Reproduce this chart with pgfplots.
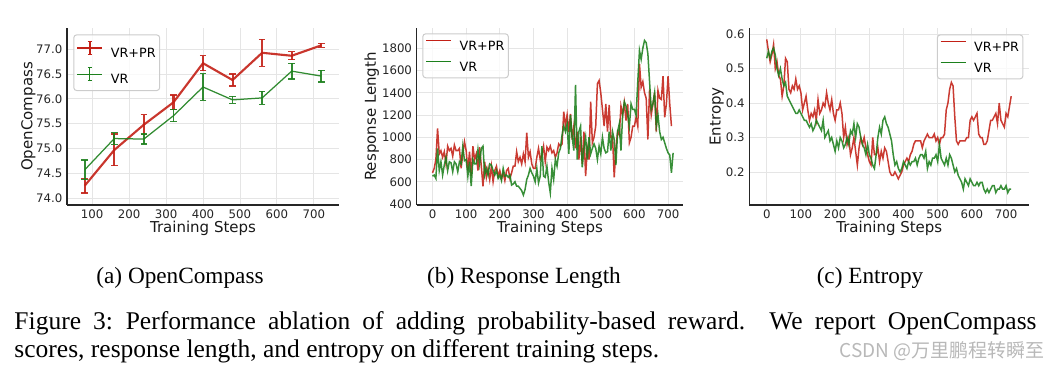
\documentclass[border=0pt]{standalone}
\usepackage{fontspec}
\setmainfont{Liberation Serif}
\newfontfamily\dejavu{DejaVu Sans}
\newfontfamily\cjk{Noto Sans CJK SC}
\usepackage{pgfplots}
\pgfplotsset{compat=1.18}
\usepackage{pgfplotstable}
\definecolor{cred}{RGB}{195,32,22}
\definecolor{cgreen}{RGB}{28,128,28}

% (b) Response length
\pgfplotstableread{
x y
0 680
5 720
10 800
15 1080
20 850
25 880
30 820
35 870
40 760
45 920
50 880
55 900
60 830
65 930
70 880
75 880
80 900
85 720
90 850
95 960
100 880
105 700
110 870
115 650
120 920
125 800
130 850
135 700
140 910
145 740
150 560
155 780
160 640
165 720
170 620
175 740
180 600
185 700
190 740
195 650
200 700
205 630
210 680
215 610
220 700
225 720
230 630
235 680
240 740
245 740
250 870
255 780
260 820
265 760
270 850
275 780
280 1040
285 820
290 870
295 760
300 720
305 720
310 820
315 900
320 800
325 840
330 920
335 780
340 910
345 880
350 920
355 860
360 880
365 820
370 860
375 940
380 920
385 940
390 1230
395 1100
400 1200
405 1050
410 1210
415 980
420 1100
425 900
430 1050
435 800
440 1000
445 760
450 1050
455 650
460 900
465 800
470 1320
475 950
480 1000
485 1100
490 1480
495 1510
500 1400
505 1250
510 1100
515 1300
520 1050
525 1290
530 1000
535 1000
540 640
545 900
550 1050
555 1020
560 1280
565 1200
570 1310
575 1150
580 1300
585 950
590 1000
595 1100
600 1100
605 1180
610 1100
615 1660
620 1450
625 1500
630 1400
635 1350
640 980
645 1430
650 1200
655 1300
660 1400
665 1050
670 1420
675 1350
680 1340
685 1550
690 1180
695 1300
700 1550
705 1300
710 1100
}\lenpr
\pgfplotstableread{
x y
0 650
5 660
10 630
15 900
20 700
25 780
30 660
35 750
40 820
45 700
50 780
55 770
60 690
65 780
70 760
75 690
80 780
85 760
90 920
95 790
100 800
105 650
110 780
115 560
120 800
125 760
130 760
135 890
140 760
145 900
150 920
155 660
160 720
165 660
170 760
175 750
180 700
185 660
190 700
195 630
200 660
205 610
210 720
215 650
220 660
225 640
230 660
235 570
240 580
245 600
250 560
255 560
260 540
265 520
270 480
275 530
280 620
285 660
290 720
295 680
300 650
305 600
310 720
315 590
320 650
325 920
330 650
335 640
340 740
345 600
350 500
355 720
360 620
365 800
370 740
375 860
380 900
385 1020
390 1100
395 1050
400 1120
405 850
410 1200
415 1000
420 880
425 1470
430 800
435 1050
440 1100
445 730
450 900
455 1000
460 800
465 1000
470 850
475 900
480 940
485 900
490 800
495 920
500 850
505 1000
510 900
515 860
520 870
525 1050
530 880
535 1050
540 980
545 750
550 1050
555 1120
560 880
565 1200
570 1320
575 1280
580 1200
585 1100
590 1300
595 1250
600 1250
605 1200
610 1500
615 1780
620 1700
625 1800
630 1870
635 1850
640 1750
645 1500
650 1250
655 1300
660 1400
665 1100
670 1200
675 1050
680 980
685 1000
690 950
695 900
700 860
705 840
710 680
715 860
}\lenvr

% (c) Entropy
\pgfplotstableread{
x y
0 0.585
5 0.55
10 0.52
15 0.54
20 0.57
25 0.50
30 0.52
35 0.48
40 0.47
45 0.42
50 0.45
55 0.53
60 0.52
65 0.44
70 0.43
75 0.45
80 0.44
85 0.47
90 0.44
95 0.45
100 0.43
105 0.38
110 0.40
115 0.42
120 0.38
125 0.35
130 0.37
135 0.36
140 0.38
145 0.35
150 0.41
155 0.37
160 0.38
165 0.40
170 0.39
175 0.43
180 0.40
185 0.38
190 0.41
195 0.37
200 0.35
205 0.38
210 0.38
215 0.40
220 0.37
225 0.30
230 0.33
235 0.28
240 0.30
245 0.25
250 0.27
255 0.30
260 0.26
265 0.22
270 0.27
275 0.30
280 0.28
285 0.30
290 0.27
295 0.25
300 0.23
305 0.22
310 0.30
315 0.25
320 0.25
325 0.27
330 0.23
335 0.26
340 0.24
345 0.27
350 0.26
355 0.23
360 0.20
365 0.19
370 0.19
375 0.20
380 0.19
385 0.18
390 0.19
395 0.20
400 0.22
405 0.23
410 0.24
415 0.23
420 0.25
425 0.26
430 0.28
435 0.29
440 0.29
445 0.29
450 0.29
455 0.27
460 0.29
465 0.30
470 0.31
475 0.30
480 0.30
485 0.30
490 0.31
495 0.29
500 0.30
505 0.28
510 0.30
515 0.30
520 0.31
525 0.38
530 0.40
535 0.44
540 0.46
545 0.45
550 0.36
555 0.29
560 0.28
565 0.29
570 0.29
575 0.29
580 0.29
585 0.30
590 0.30
595 0.35
600 0.36
605 0.35
610 0.36
615 0.37
620 0.31
625 0.30
630 0.30
635 0.28
640 0.28
645 0.29
650 0.32
655 0.35
660 0.35
665 0.36
670 0.37
675 0.34
680 0.40
685 0.35
690 0.34
695 0.33
700 0.37
705 0.36
710 0.39
715 0.42
}\entpr
\pgfplotstableread{
x y
0 0.53
5 0.55
10 0.53
15 0.55
20 0.56
25 0.54
30 0.50
35 0.48
40 0.50
45 0.47
50 0.45
55 0.46
60 0.42
65 0.41
70 0.40
75 0.39
80 0.38
85 0.37
90 0.37
95 0.38
100 0.37
105 0.36
110 0.35
115 0.35
120 0.34
125 0.33
130 0.34
135 0.32
140 0.33
145 0.35
150 0.34
155 0.33
160 0.32
165 0.35
170 0.30
175 0.31
180 0.32
185 0.29
190 0.30
195 0.28
200 0.26
205 0.29
210 0.27
215 0.30
220 0.29
225 0.27
230 0.28
235 0.30
240 0.28
245 0.32
250 0.31
255 0.34
260 0.30
265 0.34
270 0.33
275 0.30
280 0.28
285 0.27
290 0.25
295 0.28
300 0.25
305 0.24
310 0.22
315 0.21
320 0.25
325 0.30
330 0.33
335 0.31
340 0.35
345 0.36
350 0.34
355 0.33
360 0.31
365 0.29
370 0.25
375 0.22
380 0.23
385 0.21
390 0.20
395 0.21
400 0.23
405 0.22
410 0.21
415 0.23
420 0.22
425 0.23
430 0.23
435 0.24
440 0.22
445 0.24
450 0.25
455 0.25
460 0.24
465 0.26
470 0.21
475 0.23
480 0.22
485 0.24
490 0.24
495 0.25
500 0.23
505 0.28
510 0.24
515 0.23
520 0.22
525 0.24
530 0.22
535 0.25
540 0.24
545 0.22
550 0.20
555 0.21
560 0.19
565 0.18
570 0.17
575 0.15
580 0.18
585 0.17
590 0.16
595 0.18
600 0.17
605 0.16
610 0.16
615 0.17
620 0.16
625 0.17
630 0.17
635 0.15
640 0.14
645 0.15
650 0.14
655 0.15
660 0.16
665 0.16
670 0.14
675 0.15
680 0.15
685 0.16
690 0.15
695 0.15
700 0.16
705 0.14
710 0.15
715 0.15
}\entvr

\pgfplotsset{
  panel/.style={
    scale only axis,
    axis x line*=bottom, axis y line*=left,
    axis line style={-, line width=0.55pt, black!85},
    major tick length=0pt,
    grid=major,
    grid style={draw=black!10, line width=0.35pt},
    tick label style={font=\fontsize{4.7}{5.5}\dejavu, text=black!85},
    /pgf/number format/assume math mode=true,
    /pgf/number format/1000 sep={},
    xticklabel style={inner sep=0pt, anchor=north, yshift=-1.8pt},
    yticklabel style={inner sep=0pt, anchor=east, xshift=-1.7pt},
    label style={font=\fontsize{6}{7}\dejavu, text=black!90},
    xlabel={Training Steps},
    xlabel style={at={(axis description cs:0.5,-0.13)}, anchor=center},
    height=70.8pt,
    legend cell align=left,
    legend style={font=\fontsize{5.1}{6}\dejavu, draw=black!20, rounded corners=1.2pt,
      fill=white, fill opacity=0.8, text opacity=1, inner xsep=1.0pt, inner ysep=2.1pt,
      row sep=3.4pt,
      nodes={inner sep=0.6pt, text height=3.8pt, text depth=0pt},
      /tikz/every odd column/.append style={column sep=2.4pt}},
    legend image code/.code={\draw[#1, opacity=1, line width=0.7pt] (0pt,1.9pt) -- (10pt,1.9pt);},
  },
  lin/.style={line width=0.6pt, opacity=0.88},
  eblegend/.style={legend image code/.code={
    \draw[#1, opacity=1] (0pt,1.9pt) -- (10pt,1.9pt);
    \draw[#1, opacity=1] (5pt,-0.7pt) -- (5pt,4.5pt);
    \draw[#1, opacity=1, line width=0.45pt] (4.2pt,-0.7pt) -- (5.8pt,-0.7pt);
    \draw[#1, opacity=1, line width=0.45pt] (4.2pt,4.5pt) -- (5.8pt,4.5pt);}},
}

\begin{document}
\begin{tikzpicture}
\useasboundingbox (0pt,0pt) rectangle (419.6pt,147.2pt);

% (a) OpenCompass
\begin{axis}[panel, eblegend, at={(26.8pt,65.2pt)}, anchor=south west, width=108.8pt,
  xmin=32, xmax=768, ymin=73.86, ymax=77.43,
  xtick={100,200,...,700},
  ytick={74.0,74.5,75.0,75.5,76.0,76.5,77.0},
  yticklabel style={/pgf/number format/.cd, fixed, fixed zerofill, precision=1},
  ylabel={OpenCompass},
  ylabel style={at={(axis description cs:-0.142,0.5)}, anchor=center},
  legend style={at={(axis description cs:0.023,0.964)}, anchor=north west},
]
\addplot[color=cred, line width=0.85pt, opacity=0.9,
  error bars/.cd, y dir=both, y explicit,
  error bar style={line width=0.85pt}, error mark options={rotate=90, mark size=1.3pt, line width=0.5pt}]
coordinates {
(80,74.25) +- (0,0.15)
(160,74.97) +- (0,0.32)
(240,75.48) +- (0,0.20)
(320,75.93) +- (0,0.15)
(400,76.72) +- (0,0.15)
(480,76.38) +- (0,0.12)
(560,76.93) +- (0,0.27)
(640,76.87) +- (0,0.08)
(720,77.08) +- (0,0.04)
};
\addlegendentry{VR+PR}
\addplot[color=cgreen, line width=0.5pt, opacity=0.9,
  error bars/.cd, y dir=both, y explicit,
  error bar style={line width=0.7pt}, error mark options={rotate=90, mark size=1.3pt, line width=0.5pt}]
coordinates {
(80,74.57) +- (0,0.20)
(160,75.20) +- (0,0.12)
(240,75.19) +- (0,0.10)
(320,75.66) +- (0,0.12)
(400,76.24) +- (0,0.27)
(480,75.98) +- (0,0.07)
(560,76.02) +- (0,0.13)
(640,76.56) +- (0,0.16)
(720,76.46) +- (0,0.12)
};
\addlegendentry{VR}
\end{axis}

% (b) Response Length
\begin{axis}[panel, at={(166.68pt,65.2pt)}, anchor=south west, width=106.6pt,
  xmin=-47, xmax=745, ymin=391, ymax=1982,
  xtick={0,100,...,700},
  ytick={400,600,...,1800},
  ylabel={Response Length},
  ylabel style={at={(axis description cs:-0.169,0.5)}, anchor=center},
  legend style={at={(axis description cs:0.021,0.97)}, anchor=north west},
]
\addplot[lin, color=cred] table[x=x,y=y] {\lenpr};
\addlegendentry{VR+PR}
\addplot[lin, color=cgreen] table[x=x,y=y] {\lenvr};
\addlegendentry{VR}
\end{axis}

% (c) Entropy
\begin{axis}[panel, at={(299.72pt,65.2pt)}, anchor=south west, width=112pt,
  xmin=-51, xmax=768, ymin=0.104, ymax=0.618,
  xtick={0,100,...,700},
  ytick={0.2,0.3,0.4,0.5,0.6},
  yticklabel style={/pgf/number format/.cd, fixed, fixed zerofill, precision=1},
  ylabel={Entropy},
  ylabel style={at={(axis description cs:-0.116,0.5)}, anchor=center},
  legend style={at={(axis description cs:0.979,0.964)}, anchor=north east},
]
\addplot[lin, color=cred] table[x=x,y=y] {\entpr};
\addlegendentry{VR+PR}
\addplot[lin, color=cgreen] table[x=x,y=y] {\entvr};
\addlegendentry{VR}
\end{axis}

% captions
\node[anchor=base, font=\fontsize{9.3}{11.2}\selectfont] at (72pt,34pt) {(a) OpenCompass};
\node[anchor=base, font=\fontsize{9.3}{11.2}\selectfont] at (209.6pt,34pt) {(b) Response Length};
\node[anchor=base, font=\fontsize{9.3}{11.2}\selectfont] at (348pt,34pt) {(c) Entropy};
\node[anchor=base west, inner sep=0pt, text width=408.8pt, align=justify,
  font=\fontsize{10.2}{11.2}\selectfont] at (5.6pt,15.6pt)
  {Figure 3:\enspace Performance ablation of adding probability-based reward.\ \ We report OpenCompass\linebreak scores, response length, and entropy on different training steps.};
\node[anchor=east, inner sep=0pt, text=black!28, font=\fontsize{7.6}{8}\cjk] at (418pt,6.8pt) {CSDN @万里鹏程转瞬至};
\end{tikzpicture}
\end{document}
